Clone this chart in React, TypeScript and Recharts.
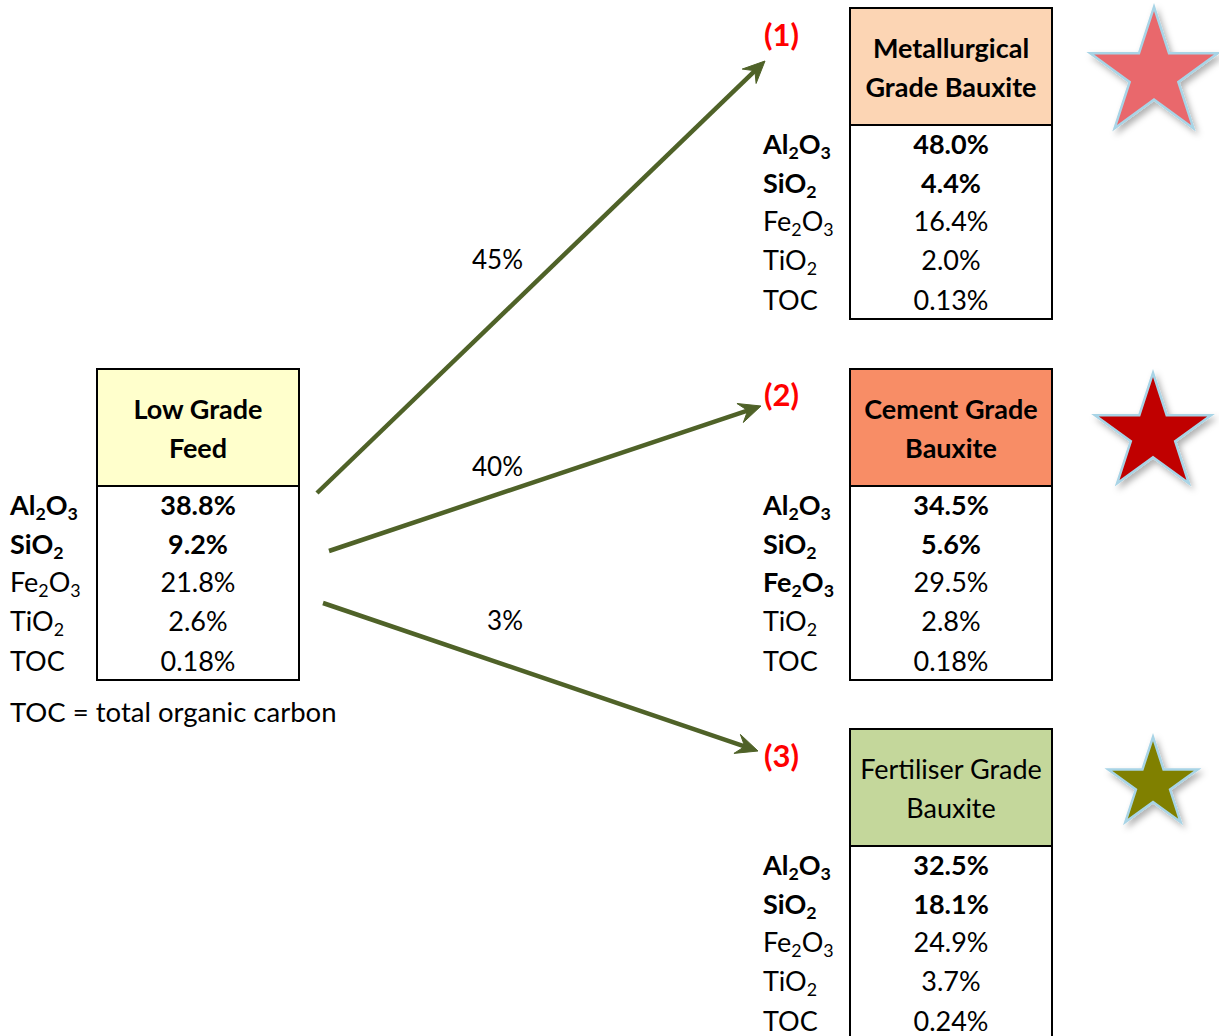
import React from 'react';
import { ScatterChart, Scatter, XAxis, YAxis, ReferenceArea, ReferenceLine } from 'recharts';

// ---------- data ----------
const compounds = ['Al2O3', 'SiO2', 'Fe2O3', 'TiO2', 'TOC'];
const feedName = ['Low Grade', 'Feed'];
const feedValues = [38.8, 9.2, 21.8, 2.6, 0.18];
const productNames = [
  ['Metallurgical', 'Grade Bauxite'],
  ['Cement Grade', 'Bauxite'],
  ['Fertiliser Grade', 'Bauxite'],
];
const metValues = [48.0, 4.4, 16.4, 2.0, 0.13];
const cementValues = [34.5, 5.6, 29.5, 2.8, 0.18];
const fertValues = [32.5, 18.1, 24.9, 3.7, 0.24];
const productTags = ['(1)', '(2)', '(3)'];
const splitPercents = [45, 40, 3];
const boldLabelRows = [2, 2, 3, 2];
const boldValueRows = [2, 2, 2, 2];
const headerBold = [true, true, true, false];
const footnote = 'TOC = total organic carbon';

// ---------- layout ----------
const W = 1219;
const H = 1036;
const FONT = 'Lato, "Open Sans", sans-serif';
const FS = 27;
const ARROW = '#4F6228';
const boxes = [
  { x1: 97, x2: 299, top: 369, head: 486, bottom: 680, labelX: 10, fill: '#FFFFCC' },
  { x1: 850, x2: 1052, top: 8, head: 125, bottom: 319, labelX: 763, fill: '#FCD5B4' },
  { x1: 850, x2: 1052, top: 369, head: 486, bottom: 680, labelX: 763, fill: '#F88D66' },
  { x1: 850, x2: 1052, top: 729, head: 846, bottom: 1060, labelX: 763, fill: '#C4D79B' },
];
const rowOffsets = [19, 58, 96, 135, 175];
const headerOffsets = [40, 79];
const tagPos = [{ x: 764, y: 35 }, { x: 764, y: 395 }, { x: 764, y: 756 }];
const arrowPos = [
  [{ x: 317, y: 493 }, { x: 765, y: 61 }],
  [{ x: 329, y: 551 }, { x: 761, y: 406 }],
  [{ x: 323, y: 603 }, { x: 758, y: 751 }],
];
const splitPos = [{ x: 523, y: 260 }, { x: 523, y: 467 }, { x: 523, y: 621 }];
const footPos = { x: 10, y: 712 };
const starPos = [
  { x: 1154, y: 74, r: 67, fill: '#E9686C' },
  { x: 1153, y: 434, r: 61, fill: '#C00000' },
  { x: 1153, y: 784, r: 47, fill: '#808000' },
];

const fmt = (v: number) => (v < 1 ? v.toFixed(2) : v.toFixed(1)) + '%';

type TextItem = {
  x: number;
  y: number;
  text: string;
  anchor: 'start' | 'middle' | 'end';
  bold: boolean;
  color: string;
  size: number;
  chem: boolean;
};

const allValues = [feedValues, metValues, cementValues, fertValues];
const allHeaders = [feedName, ...productNames];

const textItems: TextItem[] = [];
boxes.forEach((b, bi) => {
  const cx = (b.x1 + b.x2) / 2;
  allHeaders[bi].forEach((line, li) => {
    textItems.push({ x: cx, y: b.top + headerOffsets[li], text: line, anchor: 'middle', bold: headerBold[bi], color: '#000', size: FS, chem: false });
  });
  compounds.forEach((c, ri) => {
    textItems.push({ x: b.labelX, y: b.head + rowOffsets[ri], text: c, anchor: 'start', bold: ri < boldLabelRows[bi], color: '#000', size: FS, chem: true });
    textItems.push({ x: cx, y: b.head + rowOffsets[ri], text: fmt(allValues[bi][ri]), anchor: 'middle', bold: ri < boldValueRows[bi], color: '#000', size: FS, chem: false });
  });
});
productTags.forEach((t, i) => {
  textItems.push({ x: tagPos[i].x, y: tagPos[i].y, text: t, anchor: 'start', bold: true, color: '#FF0000', size: 31, chem: false });
});
splitPercents.forEach((p, i) => {
  textItems.push({ x: splitPos[i].x, y: splitPos[i].y, text: p + '%', anchor: 'end', bold: false, color: '#000', size: 26, chem: false });
});
textItems.push({ x: footPos.x, y: footPos.y, text: footnote, anchor: 'start', bold: false, color: '#000', size: 27.5, chem: false });

const chemSpans = (s: string, fs: number) => {
  const parts = s.match(/[A-Za-z]+|\d+/g) || [];
  const shift = fs * 0.2;
  let prevSub = false;
  return parts.map((p, i) => {
    const isNum = /^\d+$/.test(p);
    let dy = 0;
    if (isNum && !prevSub) dy = shift;
    if (!isNum && prevSub) dy = -shift;
    prevSub = isNum;
    return (
      <tspan key={i} dy={dy} fontSize={isNum ? fs * 0.66 : fs}>
        {p}
      </tspan>
    );
  });
};

const TextShape = (props: any) => {
  const { cx, cy, payload } = props;
  const t: TextItem = payload;
  if (cx == null || cy == null) return null;
  return (
    <text
      x={cx}
      y={cy + t.size * 0.36}
      textAnchor={t.anchor}
      fontFamily={FONT}
      fontSize={t.size}
      fontWeight={t.bold ? 700 : 400}
      fill={t.color}
    >
      {t.chem ? chemSpans(t.text, t.size) : t.text}
    </text>
  );
};

const StarShape = (props: any) => {
  const { cx, cy, payload, index } = props;
  if (cx == null || cy == null) return null;
  const R = payload.r;
  const r = R * 0.382;
  const pts: string[] = [];
  for (let i = 0; i < 10; i++) {
    const a = (-90 + i * 36) * (Math.PI / 180);
    const rad = i % 2 === 0 ? R : r;
    pts.push(`${cx + rad * Math.cos(a)},${cy + rad * Math.sin(a)}`);
  }
  const fid = `starShadow${index}`;
  return (
    <g>
      <defs>
        <filter id={fid} x="-30%" y="-30%" width="160%" height="160%">
          <feDropShadow dx="3" dy="4" stdDeviation="3" floodColor="#000" floodOpacity="0.3" />
        </filter>
      </defs>
      <polygon points={pts.join(' ')} fill={payload.fill} stroke="#A8D4E6" strokeWidth={2.5} strokeLinejoin="miter" filter={`url(#${fid})`} />
    </g>
  );
};

const ArrowShape = (props: any) => {
  const { x1, y1, x2, y2 } = props;
  const dx = x2 - x1;
  const dy = y2 - y1;
  const len = Math.sqrt(dx * dx + dy * dy);
  const ux = dx / len;
  const uy = dy / len;
  const px = -uy;
  const py = ux;
  const L = 22;
  const Wd = 10;
  const notch = 14;
  const bx = x2 - ux * L;
  const by = y2 - uy * L;
  const nx = x2 - ux * notch;
  const ny = y2 - uy * notch;
  const pts = [
    `${x2},${y2}`,
    `${bx + px * Wd},${by + py * Wd}`,
    `${nx},${ny}`,
    `${bx - px * Wd},${by - py * Wd}`,
  ].join(' ');
  return (
    <g>
      <line x1={x1} y1={y1} x2={nx + ux * 2} y2={ny + uy * 2} stroke={ARROW} strokeWidth={4.5} />
      <polygon points={pts} fill={ARROW} stroke={ARROW} strokeWidth={1} strokeLinejoin="miter" />
    </g>
  );
};

export default function App() {
  return (
    <div style={{ position: 'absolute', left: 0, top: 0, width: W, height: H, background: '#fff' }}>
      <ScatterChart width={W} height={H} margin={{ top: 0, right: 0, bottom: 0, left: 0 }}>
        <XAxis type="number" dataKey="x" domain={[0, W]} hide allowDataOverflow />
        <YAxis type="number" dataKey="y" domain={[0, H]} reversed hide allowDataOverflow />
        {boxes.map((b, i) => (
          <ReferenceArea key={`body${i}`} x1={b.x1} x2={b.x2} y1={b.head} y2={b.bottom} fill="#FFFFFF" fillOpacity={1} stroke="#000" strokeWidth={2} ifOverflow="visible" />
        ))}
        {boxes.map((b, i) => (
          <ReferenceArea key={`head${i}`} x1={b.x1} x2={b.x2} y1={b.top} y2={b.head} fill={b.fill} fillOpacity={1} stroke="#000" strokeWidth={2} ifOverflow="visible" />
        ))}
        {arrowPos.map((seg, i) => (
          <ReferenceLine key={`arrow${i}`} segment={seg} stroke={ARROW} shape={ArrowShape} ifOverflow="visible" />
        ))}
        <Scatter data={starPos} shape={StarShape} isAnimationActive={false} />
        <Scatter data={textItems} shape={TextShape} isAnimationActive={false} />
      </ScatterChart>
    </div>
  );
}
